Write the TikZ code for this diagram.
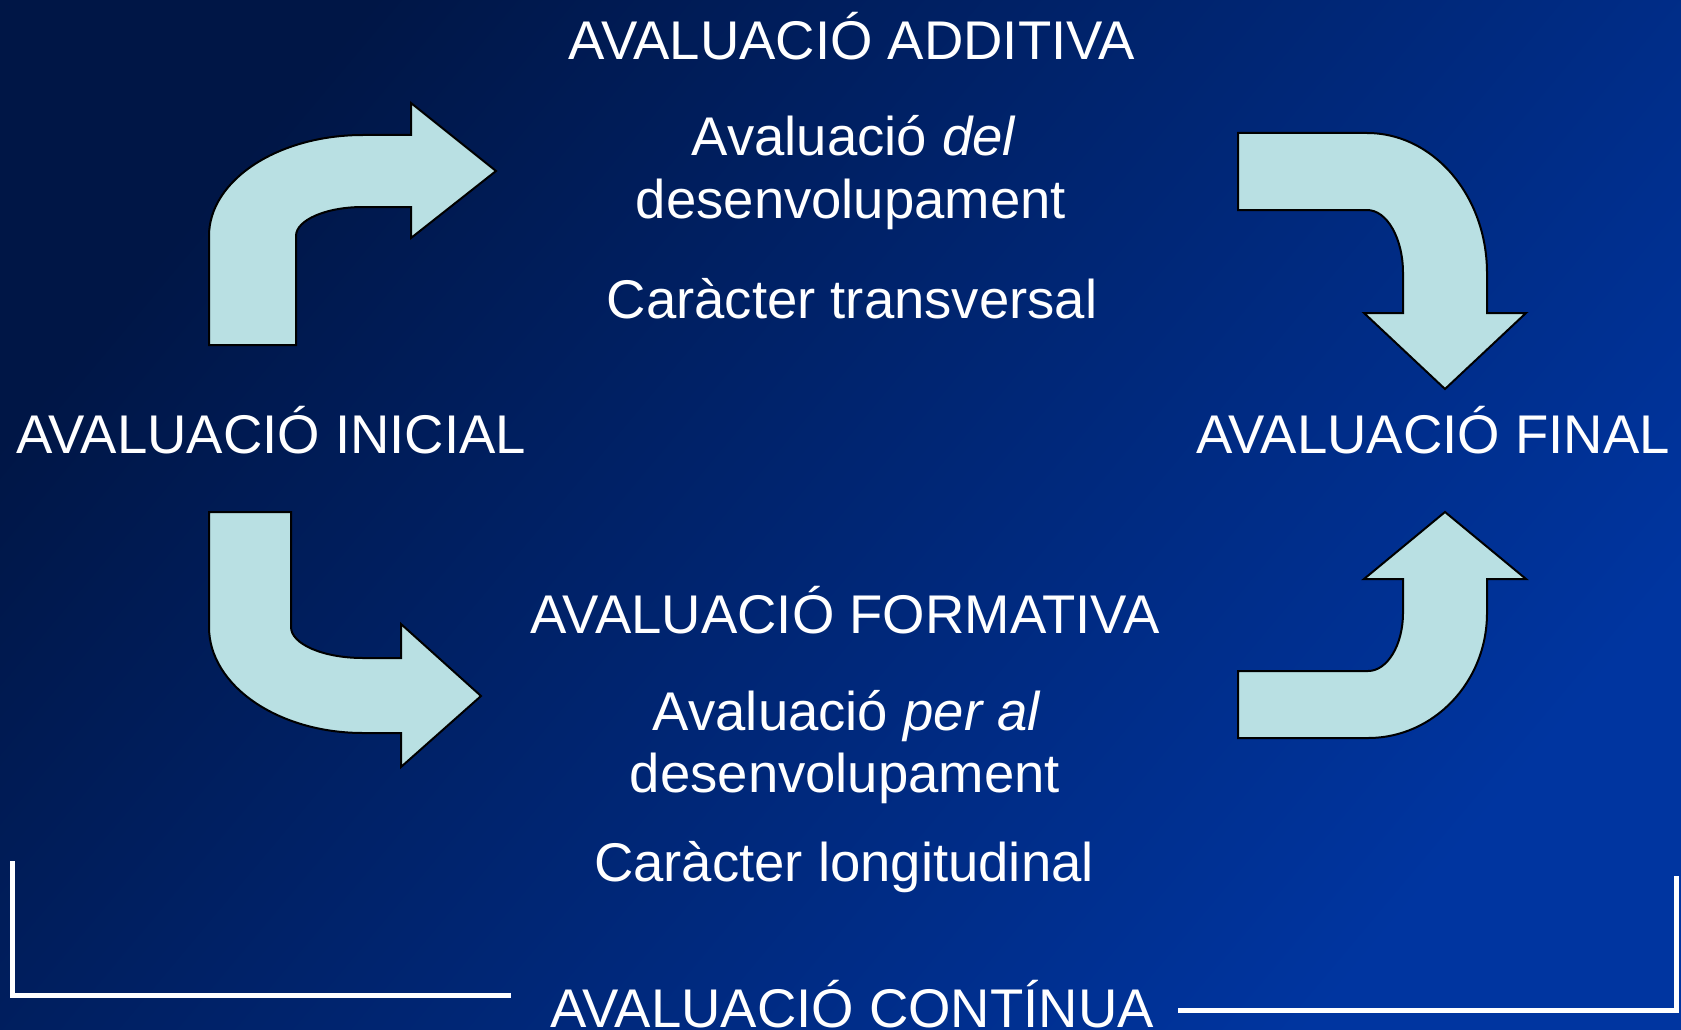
\documentclass[tikz,border=0pt]{standalone}
\usepackage{fontspec}
\setmainfont{Liberation Sans}
\definecolor{bgTL}{RGB}{0,22,70}
\definecolor{bgBR}{RGB}{0,53,160}
\definecolor{arrowfill}{RGB}{185,224,227}
\begin{document}
\begin{tikzpicture}[x=1pt,y=-1pt,
  blockarrow/.style={fill=arrowfill, draw=black, line width=2pt, line join=miter},
  txt/.style={text=white, font=\fontsize{54.5}{60}\selectfont, inner sep=0pt, anchor=base},
  bracket/.style={draw=white, line width=5pt, line join=miter}]
\shade[top color=bgTL, bottom color=bgBR, shading angle=50] (0,0) rectangle (1681,1030);
\useasboundingbox (0,0) rectangle (1681,1030);

% top-left arrow
\draw[blockarrow] (209,345) -- (209,236)
  .. controls (209,180.2) and (278,135) .. (363,135)
  -- (411,135) -- (411,103) -- (496,171) -- (411,238) -- (411,207) -- (363,207)
  .. controls (326,207) and (296,220) .. (296,236)
  -- (296,345) -- cycle;

% top-right arrow
\draw[blockarrow] (1238,133) -- (1367,133)
  .. controls (1433.3,133) and (1487,195.7) .. (1487,273)
  -- (1487,313) -- (1526,313) -- (1445,389) -- (1364,313) -- (1403,313) -- (1403,273)
  .. controls (1403,238.2) and (1386.9,210) .. (1367,210)
  -- (1238,210) -- cycle;

% bottom-left arrow
\draw[blockarrow] (209,512) -- (291,512) -- (291,627)
  .. controls (291,644.1) and (323.2,658) .. (363,658)
  -- (401,658) -- (401,624) -- (481,696) -- (401,767) -- (401,733) -- (363,733)
  .. controls (278,733) and (209,685.5) .. (209,627)
  -- cycle;

% bottom-right arrow
\draw[blockarrow] (1238,738) -- (1368,738)
  .. controls (1433.7,738) and (1487,682) .. (1487,613)
  -- (1487,579) -- (1526,579) -- (1445,512) -- (1364,579) -- (1403,579) -- (1403,613)
  .. controls (1403,645) and (1387.3,671) .. (1368,671)
  -- (1238,671) -- cycle;

% texts
\node[txt] (additiva) at (852,60) {AVALUACIÓ ADDITIVA};
\node[txt] (del) at (854,155) {Avaluació \textit{del}};
\node[txt] (desA) at (851,218) {desenvolupament};
\node[txt] (transv) at (852,318) {Caràcter transversal};

\node[txt] (inicial) at (271,453) {AVALUACIÓ INICIAL};
\node[txt] (final) at (1433,453) {AVALUACIÓ FINAL};

\node[txt] (formativa) at (845,633) {AVALUACIÓ FORMATIVA};
\node[txt] (peral) at (847,730) {Avaluació \textit{per al}};
\node[txt] (desB) at (845,792) {desenvolupament};
\node[txt] (longit) at (844,881) {Caràcter longitudinal};

\node[txt, text depth=0pt] (continua) at (852,1027) {AVALUACIÓ CONTÍNUA};

% brackets
\draw[bracket] (12.5,861) -- (12.5,995.5) -- (511,995.5);
\draw[bracket] (1178,1010) -- (1676,1010) -- (1676,876);
\end{tikzpicture}
\end{document}
